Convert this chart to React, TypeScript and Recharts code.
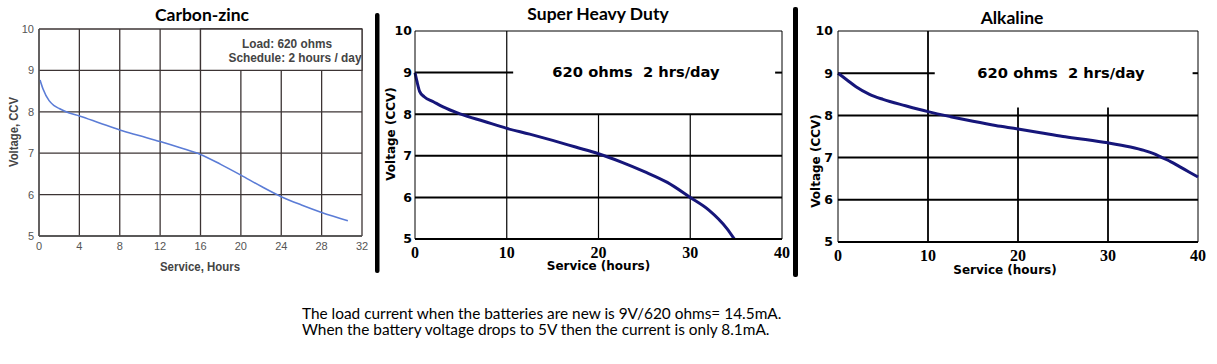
import React from "react";
import {
  LineChart,
  Line,
  XAxis,
  YAxis,
  CartesianGrid,
  ReferenceArea,
  ReferenceLine,
} from "recharts";

// values (hours -> volts)
const carbonHours = [0.1, 0.4, 1, 1.5, 2, 3, 4, 6, 8, 10, 12, 14, 16, 18, 20, 22, 24, 26, 28, 30.6];
const carbonVolts = [8.77, 8.55, 8.27, 8.15, 8.08, 7.97, 7.9, 7.73, 7.56, 7.42, 7.28, 7.13, 6.97, 6.73, 6.47, 6.2, 5.95, 5.75, 5.57, 5.37];

const heavyHours = [0, 0.2, 0.5, 1, 2, 3, 5, 7.5, 10, 12.5, 15, 17.5, 20, 22.5, 25, 27.5, 30, 32, 34, 34.8];
const heavyVolts = [9.0, 8.8, 8.55, 8.42, 8.3, 8.18, 8.0, 7.83, 7.66, 7.52, 7.37, 7.21, 7.05, 6.85, 6.62, 6.36, 6.0, 5.7, 5.25, 5.0];

const alkHours = [0, 1, 2, 3.5, 5, 7.5, 10, 12.5, 15, 17.5, 20, 22.5, 25, 27.5, 30, 32.5, 34, 35, 36, 37, 38, 39, 40];
const alkVolts = [9.0, 8.84, 8.68, 8.5, 8.38, 8.23, 8.09, 7.97, 7.86, 7.76, 7.68, 7.59, 7.5, 7.43, 7.35, 7.25, 7.17, 7.1, 7.0, 6.9, 6.78, 6.66, 6.54];

const voltTicks = [5, 6, 7, 8, 9, 10];
const carbonHourTicks = [0, 4, 8, 12, 16, 20, 24, 28, 32];
const hourTicks = [0, 10, 20, 30, 40];

const toRows = (hours: number[], volts: number[]) =>
  hours.map((h, i) => ({ h, v: volts[i] }));

const NARROW = "'Liberation Sans', Arial, sans-serif";
const VERD = "'DejaVu Sans', Verdana, sans-serif";
const TITLE = "Lato, 'Open Sans', sans-serif";

const CarbonChart = () => (
  <LineChart
    width={370}
    height={280}
    data={toRows(carbonHours, carbonVolts)}
    margin={{ top: 29, right: 8, bottom: 0, left: 0 }}
  >
    <CartesianGrid stroke="#3c3434" strokeWidth={1.3} />
    <XAxis
      type="number"
      dataKey="h"
      domain={[0, 32]}
      ticks={carbonHourTicks}
      interval={0}
      height={44}
      tickSize={0}
      tickMargin={6}
      axisLine={{ stroke: "#555", strokeWidth: 1.3 }}
      tick={{ fill: "#555", fontSize: 11, fontFamily: NARROW }}
    />
    <YAxis
      type="number"
      domain={[5, 10]}
      ticks={voltTicks}
      interval={0}
      width={39}
      tickSize={0}
      tickMargin={5}
      axisLine={{ stroke: "#555", strokeWidth: 1.3 }}
      tick={{ fill: "#555", fontSize: 11, fontFamily: NARROW }}
    />
    <ReferenceArea x1={16} x2={32} y1={9} y2={10} fill="#fff" fillOpacity={1} stroke="#3c3434" strokeWidth={1.3} />
    <Line
      type="monotone"
      dataKey="v"
      stroke="#5b7cd6"
      strokeWidth={1.6}
      dot={false}
      isAnimationActive={false}
    />
  </LineChart>
);

type DutyProps = {
  hours: number[];
  volts: number[];
  width: number;
  yWidth: number;
  xHeight: number;
  right: number;
  gridTop: number;
  gapFrom: number;
  gapTo: number;
  vStroke: number;
  yTickMargin: number;
};

const DutyChart = ({ hours, volts, width, yWidth, xHeight, right, gridTop, gapFrom, gapTo, vStroke, yTickMargin }: DutyProps) => (
  <LineChart
    width={width}
    height={280}
    data={toRows(hours, volts)}
    margin={{ top: 31, right, bottom: 0, left: 0 }}
  >
    <XAxis
      type="number"
      dataKey="h"
      domain={[0, 40]}
      ticks={hourTicks}
      interval={0}
      height={xHeight}
      tickSize={0}
      tickMargin={8}
      axisLine={{ stroke: "#000", strokeWidth: 2 }}
      tick={{ fill: "#000", fontSize: 16, fontWeight: 700, fontFamily: "'Liberation Serif', serif" }}
    />
    <YAxis
      type="number"
      domain={[5, 10]}
      ticks={voltTicks}
      interval={0}
      width={yWidth}
      tickSize={0}
      tickMargin={yTickMargin}
      axisLine={{ stroke: "#000", strokeWidth: 1 }}
      tick={{ fill: "#000", fontSize: 12.5, fontWeight: 700, fontFamily: VERD }}
    />
    <ReferenceLine y={10} stroke="#000" strokeWidth={1} />
    <ReferenceLine x={40} stroke="#000" strokeWidth={1} />
    <ReferenceLine y={6} stroke="#000" strokeWidth={2} />
    <ReferenceLine y={7} stroke="#000" strokeWidth={2} />
    <ReferenceLine y={8} stroke="#000" strokeWidth={2} />
    <ReferenceLine x={10} stroke="#000" strokeWidth={vStroke} />
    <ReferenceLine segment={[{ x: 20, y: 5 }, { x: 20, y: gridTop }]} stroke="#000" strokeWidth={vStroke} />
    <ReferenceLine segment={[{ x: 30, y: 5 }, { x: 30, y: gridTop }]} stroke="#000" strokeWidth={vStroke} />
    <ReferenceLine segment={[{ x: 0, y: 9 }, { x: gapFrom, y: 9 }]} stroke="#000" strokeWidth={2} />
    <ReferenceLine segment={[{ x: gapTo, y: 9 }, { x: 40, y: 9 }]} stroke="#000" strokeWidth={2} />
    <Line
      type="monotone"
      dataKey="v"
      stroke="#16167a"
      strokeWidth={3}
      dot={false}
      isAnimationActive={false}
    />
  </LineChart>
);

export default function App() {
  return (
    <div style={{ position: "relative", width: 1217, height: 364, background: "#fff" }}>
      <style>{"body{margin:0;}"}</style>
      <div style={{ position: "absolute", left: 0, top: 0 }}>
        <CarbonChart />
      </div>
      <div style={{ position: "absolute", left: 380, top: 0 }}>
        <DutyChart
          hours={heavyHours}
          volts={heavyVolts}
          width={410}
          yWidth={35}
          xHeight={41}
          right={8}
          gridTop={8}
          gapFrom={10.7}
          gapTo={39.25}
          vStroke={1.2}
          yTickMargin={3}
        />
      </div>
      <div style={{ position: "absolute", left: 798, top: 0 }}>
        <DutyChart
          hours={alkHours}
          volts={alkVolts}
          width={419}
          yWidth={40}
          xHeight={38}
          right={19}
          gridTop={8.19}
          gapFrom={10.75}
          gapTo={39.4}
          vStroke={1.8}
          yTickMargin={5}
        />
      </div>
      <svg
        width={1217}
        height={364}
        style={{ position: "absolute", left: 0, top: 0, pointerEvents: "none" }}
      >
        {/* separators */}
        <rect x={375} y={13} width={4.5} height={260} rx={2} fill="#000" />
        <rect x={793} y={7} width={5} height={270} rx={2} fill="#000" />

        {/* titles */}
        <g fontFamily={TITLE} fontWeight={700} fontSize={17.5} fill="#000" textAnchor="middle">
          <text x={202} y={20.5}>Carbon-zinc</text>
          <text x={598} y={19.5}>Super Heavy Duty</text>
          <text x={1012} y={24}>Alkaline</text>
        </g>

        {/* carbon-zinc labels */}
        <g fontFamily={NARROW} fontWeight={700} fill="#444" textAnchor="middle" fontSize={12}>
          <text x={287} y={48} textLength={90} lengthAdjust="spacingAndGlyphs">Load: 620 ohms</text>
          <text x={295} y={61.5} textLength={133} lengthAdjust="spacingAndGlyphs">Schedule: 2 hours / day</text>
          <text x={200} y={271} textLength={80} lengthAdjust="spacingAndGlyphs">Service, Hours</text>
          <text x={0} y={0} transform="translate(18,132) rotate(-90)" textLength={70} lengthAdjust="spacingAndGlyphs">Voltage, CCV</text>
        </g>

        {/* heavy duty + alkaline labels */}
        <g fontFamily={VERD} fontWeight={700} fill="#000" textAnchor="middle">
          <text x={636} y={77} fontSize={14.7} style={{ whiteSpace: "pre" }}>620 ohms  2 hrs/day</text>
          <text x={1061} y={78} fontSize={14.7} style={{ whiteSpace: "pre" }}>620 ohms  2 hrs/day</text>
          <text x={598.5} y={270} fontSize={12}>Service (hours)</text>
          <text x={1005} y={274} fontSize={12}>Service (hours)</text>
          <text x={0} y={0} fontSize={12} transform="translate(395,134) rotate(-90)">Voltage (CCV)</text>
          <text x={0} y={0} fontSize={12} transform="translate(820,161) rotate(-90)">Voltage (CCV)</text>
        </g>

        {/* note */}
        <g fontFamily={TITLE} fontSize={15.4} fill="#000">
          <text x={302} y={319}>The load current when the batteries are new is 9V/620 ohms= 14.5mA.</text>
          <text x={302} y={335}>When the battery voltage drops to 5V then the current is only 8.1mA.</text>
        </g>
      </svg>
    </div>
  );
}
